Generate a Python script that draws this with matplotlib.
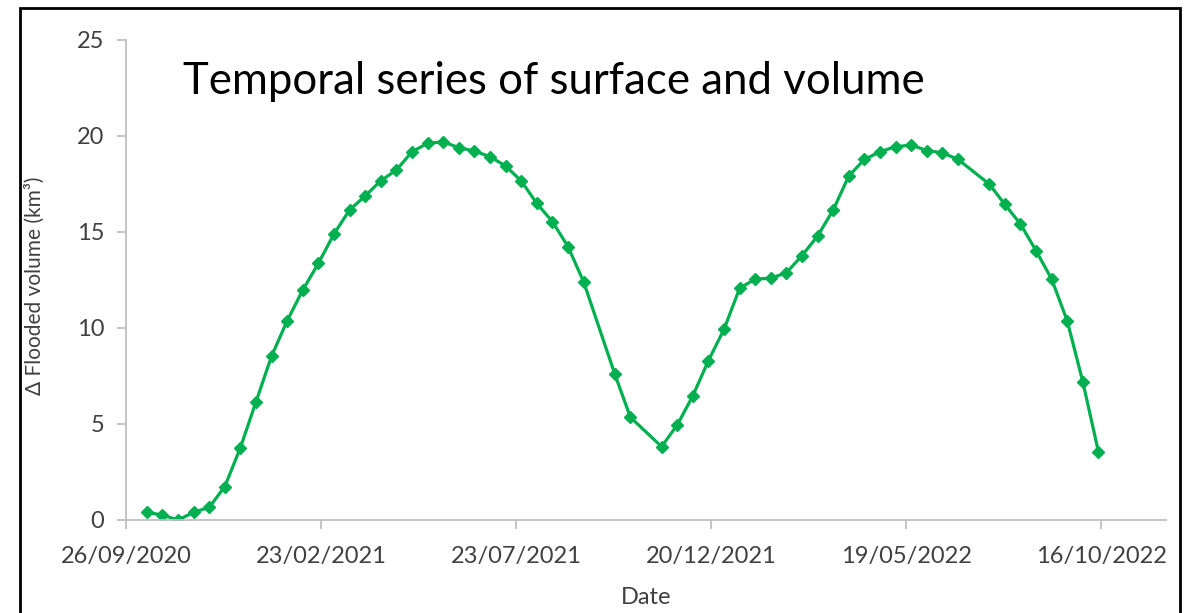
#!/usr/bin/env python3
# Temporal series of flooded volume
import matplotlib
matplotlib.use('Agg')
import matplotlib.pyplot as plt
import matplotlib.dates as mdates
from matplotlib.patches import Rectangle
import pandas as pd

# -----------------------------
# Data
# -----------------------------
dates = [
    '2020-10-12', '2020-10-24', '2020-11-05', '2020-11-17', '2020-11-29',
    '2020-12-11', '2020-12-23', '2021-01-04', '2021-01-16', '2021-01-28',
    '2021-02-09', '2021-02-21', '2021-03-05', '2021-03-17', '2021-03-29',
    '2021-04-10', '2021-04-22', '2021-05-04', '2021-05-16', '2021-05-28',
    '2021-06-09', '2021-06-21', '2021-07-03', '2021-07-15', '2021-07-27',
    '2021-08-08', '2021-08-20', '2021-09-01', '2021-09-13', '2021-10-07',
    '2021-10-19', '2021-11-12', '2021-11-24', '2021-12-06', '2021-12-18',
    '2021-12-30', '2022-01-11', '2022-01-23', '2022-02-04', '2022-02-16',
    '2022-02-28', '2022-03-12', '2022-03-24', '2022-04-05', '2022-04-17',
    '2022-04-29', '2022-05-11', '2022-05-23', '2022-06-04', '2022-06-16',
    '2022-06-28', '2022-07-22', '2022-08-03', '2022-08-15', '2022-08-27',
    '2022-09-08', '2022-09-20', '2022-10-02', '2022-10-14',
]
volume = [
    0.40, 0.26, 0.00, 0.40, 0.66, 1.74, 3.77, 6.16, 8.54, 10.38,
    11.98, 13.37, 14.90, 16.15, 16.88, 17.67, 18.23, 19.18, 19.62, 19.70,
    19.39, 19.22, 18.92, 18.44, 17.66, 16.49, 15.54, 14.24, 12.41, 7.60,
    5.35, 3.82, 4.95, 6.46, 8.30, 9.93, 12.07, 12.55, 12.59, 12.88,
    13.77, 14.79, 16.15, 17.92, 18.78, 19.18, 19.44, 19.53, 19.24, 19.13,
    18.78, 17.50, 16.44, 15.42, 14.03, 12.55, 10.38, 7.20, 3.56,
]
tick_dates = ['2020-09-26', '2021-02-23', '2021-07-23',
              '2021-12-20', '2022-05-19', '2022-10-16']
x_end = '2022-12-05'

dates = pd.to_datetime(dates)
tick_dates = pd.to_datetime(tick_dates)

# -----------------------------
# Plotting
# -----------------------------
W, H = 1193, 613
fig = plt.figure(figsize=(W / 100, H / 100), dpi=100)
ax = fig.add_axes([126 / W, 1 - 520 / H, (1166 - 126) / W, (520 - 40) / H])

ax.plot(dates, volume, color='#00b050', lw=2.3, marker='D', ms=6,
        mec='#00b050', mfc='#00b050')

ax.set_xlim(tick_dates[0], pd.Timestamp(x_end))
ax.set_ylim(0, 25)
ax.set_yticks([0, 5, 10, 15, 20, 25])
ax.set_xticks(tick_dates)
ax.xaxis.set_major_formatter(mdates.DateFormatter('%d/%m/%Y'))

for s in ['top', 'right']:
    ax.spines[s].set_visible(False)
for s in ['left', 'bottom']:
    ax.spines[s].set_color('#bfbfbf')
    ax.spines[s].set_linewidth(1.3)

tick_font = 'Lato'
ax.tick_params(colors='#bfbfbf', labelcolor='#404040', length=6.5, width=1.3,
               labelsize=17)
for lab in ax.get_xticklabels() + ax.get_yticklabels():
    lab.set_fontfamily(tick_font)
ax.tick_params(axis='x', pad=12)
ax.tick_params(axis='y', pad=9)

ax.set_xlabel('Date', fontsize=17, color='#404040', family=tick_font,
              va='center')
ax.xaxis.set_label_coords(0.5, (520 - 597) / 480, transform=ax.transAxes)
ax.set_ylabel('Δ Flooded volume (km³)', fontsize=15, color='#404040',
              family=['Lato', 'DejaVu Sans'])
ax.yaxis.set_label_coords((45 - 126) / 1040, (520 - 286) / 480,
                          transform=ax.transAxes)

fig.text(183 / W, 1 - 94 / H, 'Temporal series of surface and volume',
         fontsize=31.5, family='Lato', color='black', va='baseline', ha='left')

# outer frame (bottom edge runs off the picture)
fig.patches.append(Rectangle((20 / W, -0.05), (1180 - 20) / W, 1.05 - 8 / H,
                             transform=fig.transFigure, fill=False,
                             edgecolor='black', lw=2))

plt.savefig('out.png', dpi=100)
